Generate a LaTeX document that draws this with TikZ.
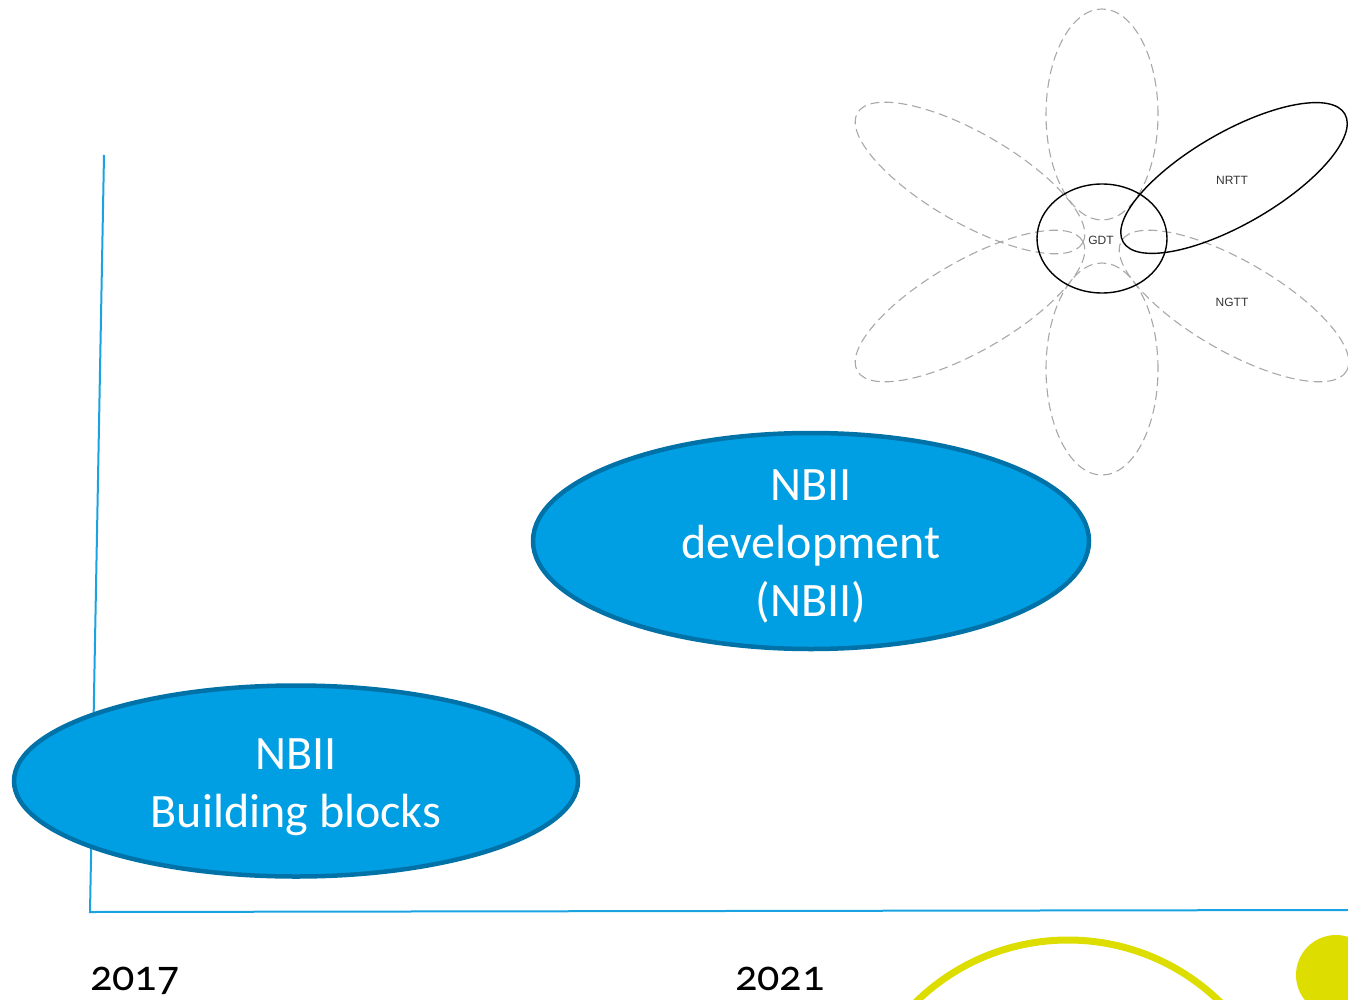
\documentclass[tikz,border=0pt]{standalone}
\usepackage{fontspec}
\setmainfont{Carlito}[Numbers=OldStyle]
\newfontfamily\smallsans{Liberation Sans}
\usetikzlibrary{shapes.geometric}
\definecolor{axisblue}{HTML}{1AA3E0}
\definecolor{ellfill}{HTML}{009FE3}
\definecolor{elledge}{HTML}{0072A8}
\definecolor{petalgray}{HTML}{A8A8A8}
\definecolor{yel}{HTML}{DDDD00}
\begin{document}
\begin{tikzpicture}[x=1pt,y=-1pt,
  axis/.style={draw=axisblue,line width=2pt},
  bigell/.style={ellipse,fill=ellfill,draw=elledge,line width=4.5pt,inner sep=0pt},
  elltext/.style={text=white,align=center,inner sep=0pt,font=\fontsize{48}{58}\selectfont},
  year/.style={anchor=base west,inner sep=0pt,font=\fontsize{44}{48}\selectfont},
  petal/.style={draw=petalgray,line width=1.1pt,dash pattern=on 9pt off 5pt},
  solidpetal/.style={draw=black,line width=1.4pt},
  tiny/.style={font=\smallsans\fontsize{12}{13}\selectfont,text=black!80,inner sep=0pt}]
\useasboundingbox (0,0) rectangle (1348,1000);
\clip (0,0) rectangle (1348,1000);
% axes
\coordinate (ytop) at (104,155);
\coordinate (origin) at (90,912);
\coordinate (xend) at (1348,910);
\draw[axis] (ytop) -- (origin) -- (xend);
% big ellipses
\node[bigell,minimum width=564pt,minimum height=191pt] (bb) at (296,781) {};
\node[elltext] (bbtext) at ([yshift=-6pt]bb.center) {NBII\\Building blocks};
\node[bigell,minimum width=556pt,minimum height=216pt] (dev) at (811,541) {};
\node[elltext] (devtext) at ([yshift=-5pt]dev.center) {NBII\\development\\(NBII)};
% years
\node[year] (y2017) at (90,990) {2017};
\node[year] (y2021) at (735,990) {2021};
% flower petals
\draw[petal] (1102,114.5) ellipse [x radius=56pt, y radius=105.5pt];
\draw[petal] (1102,369) ellipse [x radius=56pt, y radius=106pt];
\draw[petal, rotate around={-30:(970,178)}] (970,178) ellipse [x radius=130pt, y radius=45pt];
\draw[petal, rotate around={30:(970,306)}] (970,306) ellipse [x radius=130pt, y radius=45pt];
\draw[petal, rotate around={-30:(1234,306)}] (1234,306) ellipse [x radius=130pt, y radius=45pt];
\draw[solidpetal, rotate around={30:(1234,178)}] (1234,178) ellipse [x radius=128pt, y radius=46pt];
\draw[solidpetal] (1102,238.5) ellipse [x radius=65pt, y radius=54.5pt];
\node[tiny] (gdt) at (1101,240) {GDT};
\node[tiny] (nrtt) at (1232,180) {NRTT};
\node[tiny] (ngtt) at (1232,302) {NGTT};
% yellow shapes
\draw[yel,line width=7pt] (1068,1157.5) circle [radius=217.5pt];
\fill[yel] (1336,975) circle [radius=40pt];
\end{tikzpicture}
\end{document}
